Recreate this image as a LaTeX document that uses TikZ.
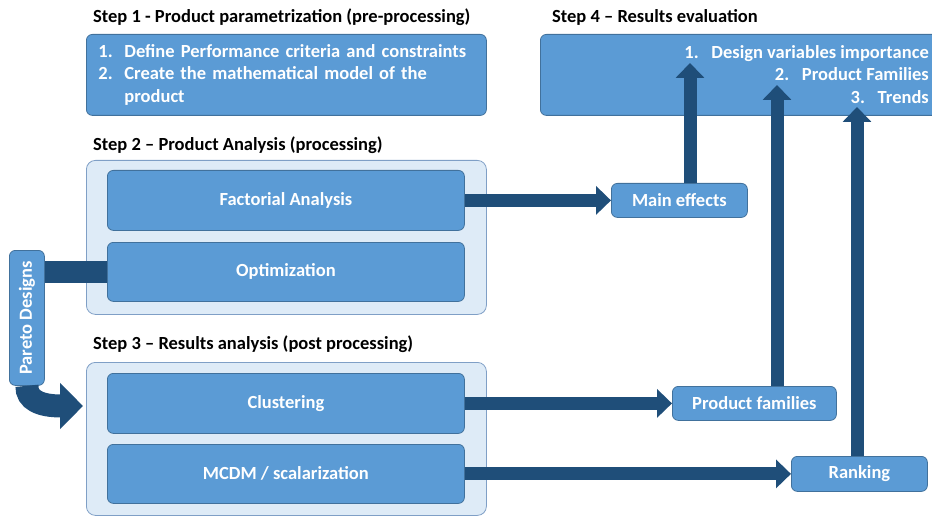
\documentclass[tikz,border=0pt]{standalone}
\usepackage{fontspec}
\setmainfont{Carlito}
\usetikzlibrary{arrows.meta}

\definecolor{boxblue}{HTML}{5B9BD5}
\definecolor{boxline}{HTML}{41719C}
\definecolor{panelblue}{HTML}{DEEBF7}
\definecolor{panelline}{HTML}{7F9FC6}
\definecolor{flowblue}{HTML}{1F4E79}

\tikzset{
  task/.style={draw=boxline, fill=boxblue, rounded corners=6pt, line width=0.8pt,
    text=white, inner sep=0pt, anchor=north west,
    font=\fontsize{18.5}{22.5}\selectfont\bfseries},
  panel/.style={draw=panelline, fill=panelblue, rounded corners=9pt, line width=0.8pt,
    anchor=north west, inner sep=0pt},
  steptitle/.style={anchor=west, inner sep=0pt, font=\fontsize{18.5}{20}\selectfont\bfseries},
  flow/.style={draw=flowblue, line width=13pt, -{Triangle[width=28pt,length=15pt]}},
}

\begin{document}
\begin{tikzpicture}[x=1pt,y=-1pt]
  \useasboundingbox (0,0) rectangle (932,516);

  % Titoli delle fasi
  \node[steptitle] (title1) at (93,17) {Step 1 - Product parametrization (pre-processing)};
  \node[steptitle] (title4) at (552,17) {Step 4 – Results evaluation};
  \node[steptitle] (title2) at (93,145) {Step 2 – Product Analysis (processing)};
  \node[steptitle] (title3) at (93,344) {Step 3 – Results analysis (post processing)};

  % Riquadri di sfondo
  \node[panel, minimum width=400pt, minimum height=154pt] (panel2) at (86,160) {};
  \node[panel, minimum width=400pt, minimum height=153pt] (panel3) at (86,362) {};

  % Fase 1 e fase 4
  \node[task, minimum width=400pt, minimum height=81pt, text width=376pt,
        inner xsep=12pt, align=left] (step1) at (86,34)
    {\makebox[26pt][l]{1.}Define Performance criteria and constraints\\
     \makebox[26pt][l]{2.}Create the mathematical model of the\\
     \hspace*{26pt}product};
  \node[task, minimum width=410pt, minimum height=81pt] (step4) at (540,34) {};
  \node[anchor=east, align=right, text=white, inner sep=0pt,
        font=\fontsize{18.5}{22.5}\selectfont\bfseries] (step4list) at (929,74.5)
    {\makebox[27pt][l]{1.}Design variables importance\\
     \makebox[27pt][l]{2.}Product Families\\
     \makebox[27pt][l]{3.}Trends};

  % Blocchi di analisi
  \node[task, minimum width=357pt, minimum height=60pt] (fact) at (107,170) {Factorial Analysis};
  \node[task, minimum width=357pt, minimum height=59pt] (optim) at (107,242) {Optimization};
  \node[task, minimum width=357pt, minimum height=60pt] (clust) at (107,373) {Clustering};
  \node[task, minimum width=357pt, minimum height=59pt] (mcdm) at (107,444) {MCDM / scalarization};

  % Risultati
  \node[task, minimum width=136pt, minimum height=34pt] (main) at (611,183) {Main effects};
  \node[task, minimum width=164pt, minimum height=34pt] (fam) at (672,386) {Product families};
  \node[task, minimum width=136pt, minimum height=35pt] (rank) at (791,456) {Ranking};

  % Ingresso
  \node[task, minimum width=35pt, minimum height=135pt] (pareto) at (9,250)
    {\rotatebox{90}{Pareto Designs}};

  % Collegamenti
  \draw[flowblue, line width=22pt] (pareto.east |- optim.west) -- (optim.west);
  \draw[flowblue, line width=23pt, -{Triangle[width=45pt,length=23pt]}]
    (pareto.south) .. controls (26.5,400) and (40,406) .. (83,406);
  \draw[flow] (fact.east) -- (main.west);
  \draw[flow] (clust.east) -- (fam.west);
  \draw[flow] (mcdm.east) -- (rank.west);

  \coordinate (t1) at (690,63);
  \coordinate (t2) at (777,85);
  \coordinate (t3) at (857,107);
  \draw[flow] (main.north -| t1) -- (t1);
  \draw[flow] (fam.north -| t2) -- (t2);
  \draw[flow] (rank.north -| t3) -- (t3);
\end{tikzpicture}
\end{document}
